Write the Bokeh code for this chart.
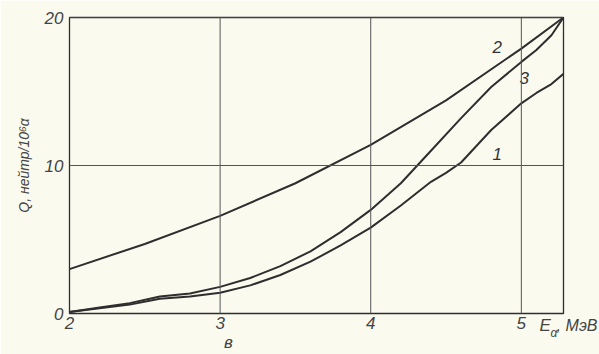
from bokeh.plotting import figure
from bokeh.models import Label, FixedTicker, Span
from bokeh.core.properties import value
from bokeh.embed import file_html
from bokeh.resources import INLINE

# Curve 1
e1 = [2.0, 2.2, 2.4, 2.6, 2.8, 3.0, 3.2, 3.4, 3.6, 3.8, 4.0, 4.2, 4.4, 4.5, 4.6, 4.7, 4.8, 5.0, 5.1, 5.2, 5.28]
q1 = [0.1, 0.35, 0.6, 1.0, 1.15, 1.4, 1.9, 2.6, 3.5, 4.6, 5.8, 7.3, 8.9, 9.5, 10.2, 11.3, 12.4, 14.2, 14.9, 15.5, 16.2]
# Curve 2
e2 = [2.0, 2.5, 3.0, 3.5, 4.0, 4.5, 5.0, 5.28]
q2 = [3.0, 4.7, 6.6, 8.8, 11.4, 14.4, 17.9, 20.0]
# Curve 3
e3 = [2.0, 2.2, 2.4, 2.6, 2.8, 3.0, 3.2, 3.4, 3.6, 3.8, 4.0, 4.2, 4.4, 4.6, 4.8, 5.0, 5.1, 5.2, 5.28]
q3 = [0.1, 0.4, 0.7, 1.15, 1.35, 1.8, 2.4, 3.2, 4.2, 5.5, 7.0, 8.8, 11.0, 13.2, 15.3, 17.0, 17.8, 18.8, 20.0]

x_ticks = [2, 3, 4, 5]
y_ticks = [0, 10, 20]
curve_names = ["1", "2", "3"]

BG = "#fbfaef"
INK = "#2e2e2e"
FONT = "Liberation Sans"

p = figure(width=599, height=354, x_range=(2, 5.28), y_range=(0, 20),
           output_backend="svg", toolbar_location=None,
           min_border_left=69, min_border_right=36, min_border_top=17, min_border_bottom=41)
p.background_fill_color = BG
p.border_fill_color = BG
p.outline_line_color = INK
p.outline_line_width = 1.3
p.xgrid.visible = False
p.ygrid.visible = False

for xv in x_ticks[1:]:
    p.add_layout(Span(location=xv, dimension="height", line_color="#555555", line_width=1))
for yv in y_ticks[1:]:
    p.add_layout(Span(location=yv, dimension="width", line_color="#555555", line_width=1))

for xs, ys in [(e1, q1), (e2, q2), (e3, q3)]:
    p.line(xs, ys, line_color=INK, line_width=2)

for ax in (p.xaxis[0], p.yaxis[0]):
    ax.axis_line_color = None
    ax.major_tick_line_color = None
    ax.minor_tick_line_color = None
    ax.major_tick_out = 0
    ax.minor_tick_out = 0
    ax.major_label_text_font = FONT
    ax.major_label_text_font_style = "italic"
    ax.major_label_text_font_size = "17px"
    ax.major_label_text_color = "#444444"

p.xaxis.ticker = FixedTicker(ticks=x_ticks)
p.yaxis.ticker = FixedTicker(ticks=y_ticks)
p.xaxis.major_label_standoff = 3
p.yaxis.major_label_standoff = 6
p.yaxis.axis_label = "Q, нейтр/10⁶α"
p.yaxis.axis_label_text_font = FONT
p.yaxis.axis_label_text_font_style = "italic"
p.yaxis.axis_label_text_font_size = "14px"
p.yaxis.axis_label_text_color = "#444444"
p.yaxis.axis_label_standoff = 10

# Curve labels
p.text(x=[4.84, 4.84, 5.02], y=[10.8, 18.0, 15.9], text=curve_names,
       text_font=value(FONT), text_font_style="italic", text_font_size="17px",
       text_color="#333333", text_align="center", text_baseline="middle")

def lab(x, y, t, side, size="17px", align="left"):
    p.add_layout(Label(x=x, y=y, x_units="canvas", y_units="canvas", text=t,
                       text_font=FONT, text_font_style="italic", text_font_size=size,
                       text_color="#444444", text_baseline="middle", text_align=align),
                 side)

lab(539, 325, "E", "right")
lab(550, 332, "α", "right", size="12px")
lab(556, 325, ", МэВ", "below", size="16px")
lab(228, 342, "в", "right", align="center")

open("out.html", "w").write(file_html(p, INLINE))
